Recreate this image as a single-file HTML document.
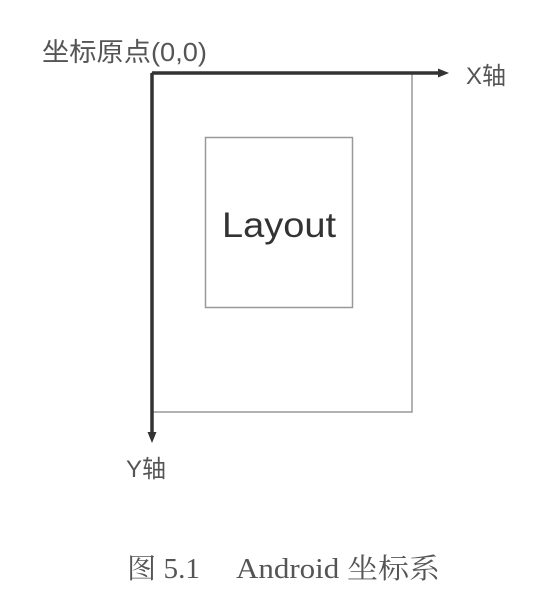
<!DOCTYPE html>
<html><head><meta charset="utf-8"><style>
html,body{margin:0;padding:0;background:#fff;}
svg{display:block}
</style></head><body>
<svg width="537" height="599" viewBox="0 0 537 599" xmlns="http://www.w3.org/2000/svg">
<rect width="537" height="599" fill="#fff"/>
<rect x="152" y="73" width="260" height="339" fill="none" stroke="#999" stroke-width="1.5"/>
<rect x="205.5" y="137.5" width="147" height="170" fill="none" stroke="#999" stroke-width="1.5"/>
<line x1="152" y1="73" x2="440" y2="73" stroke="#333" stroke-width="3.5"/>
<polygon points="449,73 438,68.5 438,77.5" fill="#333"/>
<line x1="152" y1="73" x2="152" y2="434" stroke="#333" stroke-width="3.5"/>
<polygon points="152,443 147.5,432 156.5,432" fill="#333"/>
<g font-family="Liberation Sans, Noto Sans CJK SC, sans-serif" fill="#555">
<text x="42" y="61" font-size="26" textLength="165" lengthAdjust="spacingAndGlyphs">坐标原点(0,0)</text>
<text x="466" y="84" font-size="24">X轴</text>
<text x="126" y="477" font-size="24">Y轴</text>
<text x="222" y="237" font-size="35" fill="#333" textLength="114" lengthAdjust="spacingAndGlyphs">Layout</text>
</g>
<g font-family="Liberation Serif, Noto Serif CJK SC, serif" font-size="28" fill="#555">
<text x="127" y="578" textLength="73" lengthAdjust="spacingAndGlyphs">图 5.1</text>
<text x="236" y="578" textLength="204" lengthAdjust="spacingAndGlyphs">Android 坐标系</text>
</g>
</svg>
</body></html>
